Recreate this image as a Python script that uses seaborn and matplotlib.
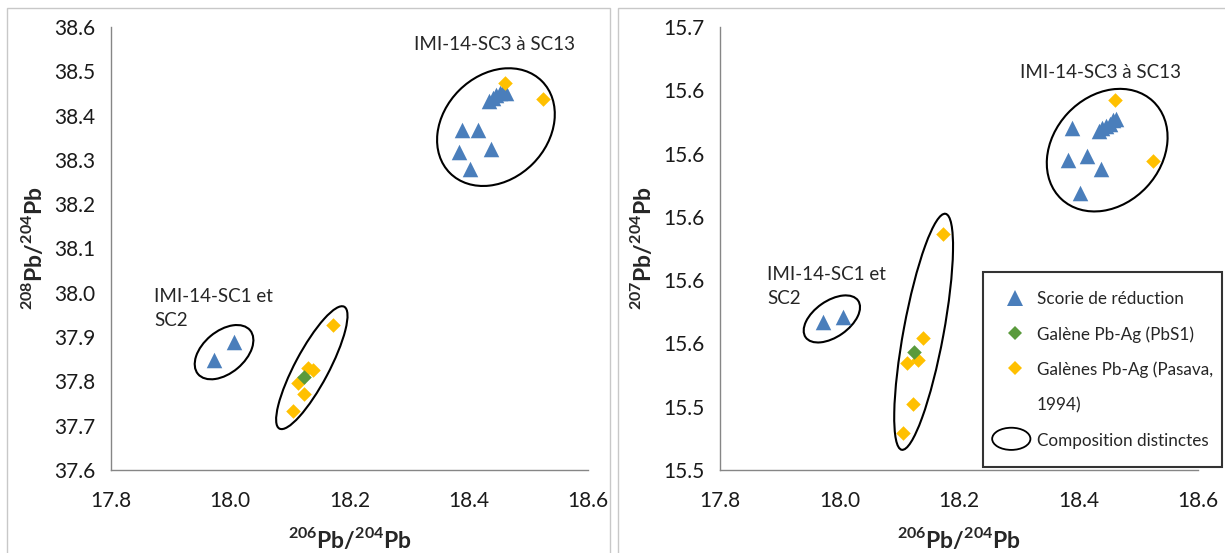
import numpy as np
import pandas as pd
import matplotlib
matplotlib.use("Agg")
import matplotlib.pyplot as plt
import seaborn as sns
from matplotlib.patches import Ellipse, Rectangle
from matplotlib.lines import Line2D
from matplotlib.legend_handler import HandlerPatch
from matplotlib.transforms import Affine2D, ScaledTranslation

sns.set_style("white")
plt.rcParams["font.family"] = ["Lato", "DejaVu Sans"]
plt.rcParams["mathtext.fontset"] = "custom"
plt.rcParams["mathtext.rm"] = "Lato:bold"
plt.rcParams["mathtext.bf"] = "Lato:bold"

# ---------------- data ----------------
# Scorie de réduction (IMI-14-SC1 ... SC13)
slag_206 = [17.972, 18.006, 18.389, 18.383, 18.415, 18.438, 18.402,
            18.434, 18.440, 18.446, 18.452, 18.458, 18.462]
slag_208 = [37.848, 37.889, 38.367, 38.318, 38.367, 38.325, 38.280,
            38.432, 38.440, 38.446, 38.450, 38.455, 38.452]
slag_207 = [15.5668, 15.5685, 15.6280, 15.6180, 15.6192, 15.6150, 15.6075,
            15.6270, 15.6280, 15.6288, 15.6295, 15.6305, 15.6310]

# Galène Pb-Ag (PbS1)
pbs1_206 = [18.124]
pbs1_208 = [37.811]
pbs1_207 = [15.5574]

# Galènes Pb-Ag (Pasava, 1994)
pas_206 = [18.461, 18.524, 18.173, 18.139, 18.131, 18.113, 18.123, 18.106]
pas_208 = [38.474, 38.437, 37.928, 37.826, 37.831, 37.797, 37.772, 37.734]
pas_207 = [15.6370, 15.6177, 15.5947, 15.5618, 15.5548, 15.5539, 15.5407, 15.5317]

x_ticks = [17.8, 18.0, 18.2, 18.4, 18.6]
y208_ticks = [37.6, 37.7, 37.8, 37.9, 38.0, 38.1, 38.2, 38.3, 38.4, 38.5, 38.6]
y207_ticks = [15.52, 15.54, 15.56, 15.58, 15.60, 15.62, 15.64, 15.66]

legend_labels = ["Scorie de réduction", "Galène Pb-Ag (PbS1)",
                 "Galènes Pb-Ag (Pasava,", "1994)", "Composition distinctes"]
label_sc3 = "IMI-14-SC3 à SC13"
label_sc1 = "IMI-14-SC1 et\nSC2"

# ---------------- style ----------------
BLUE = "#4A7EBB"
GREEN = "#5A9A3C"
YELLOW = "#FFC000"
AXC = "#868686"

df_slag = pd.DataFrame({"x": slag_206, "y208": slag_208, "y207": slag_207})
df_pbs1 = pd.DataFrame({"x": pbs1_206, "y208": pbs1_208, "y207": pbs1_207})
df_pas = pd.DataFrame({"x": pas_206, "y208": pas_208, "y207": pas_207})

W, H = 1225, 553
fig = plt.figure(figsize=(W / 100, H / 100), dpi=100)

# panel frames
for (x0, x1) in [(7, 610), (618, 1235)]:
    fig.add_artist(Rectangle((x0 / W, 1 - 600 / H), (x1 - x0) / W, (600 - 8) / H,
                             transform=fig.transFigure, fill=False,
                             ec="#C8C8C8", lw=1.0))

axL = fig.add_axes([111 / W, 1 - 470 / H, 477 / W, 443 / H])
axR = fig.add_axes([720 / W, 1 - 470 / H, 478 / W, 443 / H])


def add_ellipse(ax, fx, fy, a, b, ang):
    tr = Affine2D().scale(fig.dpi / 100) + ScaledTranslation(fx, fy, ax.transAxes)
    e = Ellipse((0, 0), 2 * a, 2 * b, angle=ang, transform=tr, fill=False,
                ec="black", lw=1.5, clip_on=False, zorder=1)
    ax.add_artist(e)


for ax, ycol, yticks, ylim, ylabel in [
        (axL, "y208", y208_ticks, (37.6, 38.6), r"$^{208}$Pb/$^{204}$Pb"),
        (axR, "y207", y207_ticks, (15.52, 15.66), r"$^{207}$Pb/$^{204}$Pb")]:
    sns.scatterplot(data=df_slag, x="x", y=ycol, ax=ax, marker="^", s=125,
                    color=BLUE, linewidth=0, zorder=3, legend=False)
    sns.scatterplot(data=df_pas, x="x", y=ycol, ax=ax, marker="D", s=55,
                    color=YELLOW, linewidth=0, zorder=4, legend=False)
    sns.scatterplot(data=df_pbs1, x="x", y=ycol, ax=ax, marker="D", s=55,
                    color=GREEN, linewidth=0, zorder=5, legend=False)
    ax.set_xlim(17.8, 18.6)
    ax.set_ylim(*ylim)
    ax.set_xticks(x_ticks)
    ax.set_yticks(yticks)
    ax.set_xticklabels([f"{v:.1f}" for v in x_ticks])
    ax.set_yticklabels([f"{v:.1f}" for v in yticks])
    for s in ["top", "right"]:
        ax.spines[s].set_visible(False)
    for s in ["left", "bottom"]:
        ax.spines[s].set_color(AXC)
        ax.spines[s].set_linewidth(1.0)
    ax.tick_params(direction="out", length=5, width=1, color=AXC,
                   labelsize=15, labelcolor="#1a1a1a", pad=6)
    ax.tick_params(axis="x", pad=10)
    ax.set_xlabel(r"$^{206}$Pb/$^{204}$Pb", fontsize=16.5, fontweight="bold",
                  labelpad=11)
    ax.set_ylabel(ylabel, fontsize=16.5, fontweight="bold", labelpad=6)

# ellipses (annotation shapes, axes-fraction centre, size in px)
add_ellipse(axL, 0.237, 0.266, 34, 21, 40)
add_ellipse(axL, 0.421, 0.231, 69, 17, 62)
add_ellipse(axL, 0.807, 0.774, 65, 52, 45)
add_ellipse(axR, 0.234, 0.341, 32, 18, 35)
add_ellipse(axR, 0.426, 0.312, 120, 20, 79.5)
add_ellipse(axR, 0.810, 0.722, 67, 54, 47)

# annotations
axL.text((414 - 111) / 477, (470 - 45) / 443, label_sc3, transform=axL.transAxes,
         fontsize=13.5, va="center", ha="left")
axL.text((154 - 111) / 477, (470 - 288) / 443, label_sc1, transform=axL.transAxes,
         fontsize=13.5, va="top", ha="left", linespacing=1.5)
axR.text((1020 - 720) / 478, (470 - 72) / 443, label_sc3, transform=axR.transAxes,
         fontsize=13.5, va="center", ha="left")
axR.text((767 - 720) / 478, (470 - 266) / 443, label_sc1, transform=axR.transAxes,
         fontsize=13.5, va="top", ha="left", linespacing=1.5)

# legend
class HandlerEllipse(HandlerPatch):
    def create_artists(self, legend, orig_handle, xdescent, ydescent, width,
                       height, fontsize, trans):
        center = 0.5 * width - 0.5 * xdescent - 3, 0.5 * height - 0.5 * ydescent
        p = Ellipse(xy=center, width=width * 1.4, height=height * 1.45)
        self.update_prop(p, orig_handle, legend)
        p.set_transform(trans)
        return [p]


h_slag = Line2D([], [], ls="", marker="^", color=BLUE, markersize=11, mew=0)
h_pbs1 = Line2D([], [], ls="", marker="D", color=GREEN, markersize=7.5, mew=0)
h_pas = Line2D([], [], ls="", marker="D", color=YELLOW, markersize=7.5, mew=0)
h_blank = Line2D([], [], ls="", marker=None)
h_ell = Ellipse((0, 0), 1, 1, fill=False, ec="black", lw=1.3)

leg = fig.legend([h_slag, h_pbs1, h_pas, h_blank, h_ell], legend_labels,
                 handler_map={Ellipse: HandlerEllipse()},
                 loc="upper left",
                 bbox_to_anchor=(983 / W, 1 - 272 / H - 0.01, (1222 - 983) / W, 0.01),
                 mode="expand", fontsize=12.3, frameon=True, fancybox=False,
                 edgecolor="black", handlelength=1.6, handleheight=1.0,
                 handletextpad=0.45, labelspacing=1.1, borderpad=1.1,
                 borderaxespad=0)
leg.get_frame().set_linewidth(1.5)

fig.savefig("out.png", dpi=100)
